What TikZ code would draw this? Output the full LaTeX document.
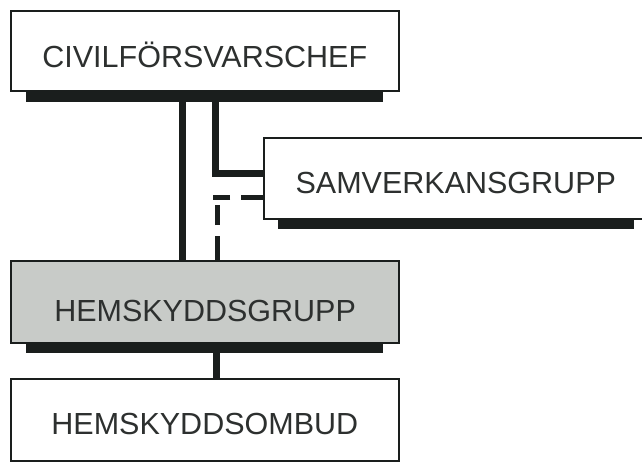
\documentclass[tikz,border=0pt]{standalone}
\usepackage{fontspec}
\setmainfont{Liberation Sans}
\definecolor{ink}{RGB}{26,30,29}
\definecolor{txt}{RGB}{45,48,47}
\definecolor{boxgray}{RGB}{200,203,200}
\begin{document}
\begin{tikzpicture}[x=1pt,y=-1pt,
  box/.style={draw=ink,line width=1.6pt,fill=white,inner sep=0pt,anchor=north west,
    font=\fontsize{30.5}{36}\selectfont,text=txt,text depth=0pt},
  conn/.style={draw=ink,line width=7pt,line join=miter,line cap=butt},
  dconn/.style={draw=ink,line width=5pt,line cap=butt},
  shadow/.style={fill=ink}]
\useasboundingbox (0,0) rectangle (642,461);
% helper coordinates for connector positions
\coordinate (xa) at (182,0);
\coordinate (xb) at (215.5,0);
\coordinate (xc) at (217.5,0);
\coordinate (xd) at (216,0);
\coordinate (ya) at (0,173);
\coordinate (yd) at (0,197.5);
\coordinate (dh) at (213,197.5);
\coordinate (dv) at (217.5,205);
% boxes (placed first for anchors, drawn later on top via layers order)
\path node[box,minimum width=388pt,minimum height=80pt,text height=33.8pt] (b1) at (10,10) {CIVILFÖRSVARSCHEF};
\path node[box,minimum width=384pt,minimum height=81pt,text height=30.8pt] (b2) at (263,137) {SAMVERKANSGRUPP};
\path node[box,minimum width=388pt,minimum height=82pt,text height=37.8pt,fill=boxgray,line width=2.2pt] (b3) at (10,260) {HEMSKYDDSGRUPP};
\path node[box,minimum width=388pt,minimum height=82pt,text height=29.8pt] (b4) at (10,378) {HEMSKYDDSOMBUD};
% connectors
\draw[conn] (b1.south -| xa) -- (b3.north -| xa);
\draw[conn] (b1.south -| xb) |- (b2.west |- ya);
\draw[conn] (b3.south -| xd) -- (b4.north -| xd);
\draw[dconn,dash pattern=on 22pt off 11pt] (b2.west |- yd) -- (dh);
\draw[dconn,dash pattern=on 24pt off 11pt] (b3.north -| xc) -- (dv);
% shadows
\fill[shadow] ([xshift=16pt]b1.south west) rectangle ([xshift=-17pt,yshift=-10pt]b1.south east);
\fill[shadow] ([xshift=15pt]b2.south west) rectangle ([xshift=-15pt,yshift=-9pt]b2.south east);
\fill[shadow] ([xshift=16pt]b3.south west) rectangle ([xshift=-17pt,yshift=-9pt]b3.south east);
\end{tikzpicture}
\end{document}
